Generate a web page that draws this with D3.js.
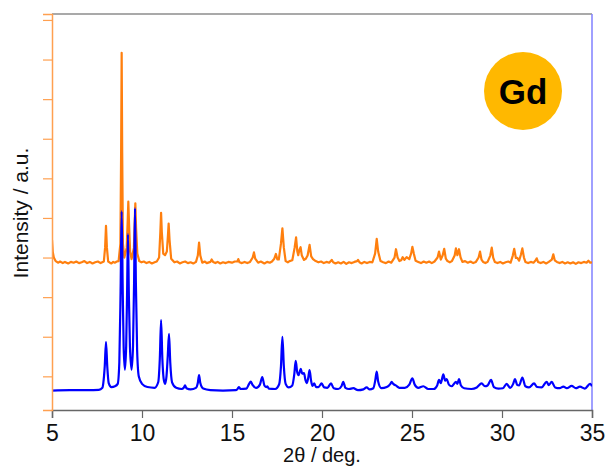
<!DOCTYPE html>
<html>
<head>
<meta charset="utf-8">
<script src="https://cdn.jsdelivr.net/npm/d3@7"></script>
<style>
  html, body { margin: 0; padding: 0; background: #fff; }
  svg { display: block; font-family: "Liberation Sans", Arial, sans-serif; }
</style>
</head>
<body>
<svg id="chart" width="605" height="468"></svg>
<script>
// Powder XRD patterns, intensity in arbitrary units vs 2θ (deg.)
// Upper trace (orange): measured pattern
const measured = [
  [5.00, 430], [5.04, 400], [5.10, 385], [5.20, 376], [5.35, 372], [5.45, 375], [5.60, 371], [5.72, 374],
  [5.90, 370], [6.05, 374], [6.20, 372], [6.35, 375], [6.50, 371], [6.65, 373], [6.80, 376], [6.95, 371],
  [7.10, 374], [7.25, 370], [7.40, 373], [7.55, 375], [7.70, 371], [7.88, 375],
  [7.95, 410], [8.00, 465], [8.05, 410], [8.12, 375], [8.22, 372], [8.30, 370], [8.40, 374], [8.50, 372],
  [8.60, 375], [8.70, 376],
  [8.80, 420], [8.84, 650], [8.87, 902], [8.90, 650], [8.94, 420], [9.02, 385], [9.15, 410],
  [9.20, 470], [9.24, 526], [9.28, 470], [9.34, 400], [9.42, 381], [9.55, 410], [9.59, 470],
  [9.63, 522], [9.67, 460], [9.74, 395], [9.85, 376], [9.97, 373], [10.10, 375], [10.25, 371],
  [10.40, 374], [10.55, 370], [10.70, 373], [10.82, 375],
  [10.95, 385], [11.02, 450], [11.06, 498], [11.10, 450], [11.18, 395], [11.28, 391], [11.38, 400],
  [11.44, 440], [11.48, 471], [11.53, 430], [11.62, 382], [11.80, 373], [11.95, 375], [12.10, 370],
  [12.25, 373], [12.40, 375], [12.55, 371], [12.70, 373], [12.85, 370], [13.00, 374],
  [13.10, 390], [13.17, 423], [13.24, 390], [13.35, 372], [13.48, 375], [13.60, 371],
  [13.80, 374], [13.87, 380], [13.95, 374], [14.08, 371], [14.20, 374], [14.35, 370], [14.50, 373],
  [14.65, 371], [14.80, 374], [15.00, 372], [15.15, 375], [15.30, 375],
  [15.35, 381], [15.42, 373], [15.55, 371], [15.70, 374], [15.85, 371], [16.00, 374], [16.15, 385],
  [16.22, 398], [16.29, 382], [16.45, 372], [16.60, 375], [16.80, 370], [16.95, 374], [17.10, 372],
  [17.22, 375], [17.35, 382], [17.44, 394], [17.52, 380], [17.60, 380],
  [17.72, 420], [17.80, 459], [17.88, 410], [17.98, 376], [18.10, 373], [18.20, 376], [18.35, 378], [18.48, 410],
  [18.56, 436], [18.63, 400], [18.68, 391], [18.75, 405], [18.81, 411], [18.88, 390], [19.00, 379],
  [19.10, 382], [19.20, 390], [19.31, 417], [19.40, 388], [19.50, 381], [19.65, 376], [19.80, 373],
  [19.95, 375], [20.10, 371], [20.25, 374], [20.40, 372], [20.54, 379], [20.62, 373], [20.75, 370],
  [20.90, 373], [21.05, 370], [21.20, 374], [21.35, 369], [21.50, 373], [21.65, 371], [21.80, 374],
  [21.95, 376], [22.00, 379], [22.08, 373], [22.20, 370], [22.35, 374], [22.50, 371], [22.65, 374],
  [22.80, 373], [22.95, 395], [23.04, 432], [23.12, 400], [23.25, 376], [23.40, 373], [23.55, 371],
  [23.70, 375], [23.85, 372], [24.03, 385], [24.11, 406], [24.20, 385], [24.30, 376], [24.40, 378], [24.48, 386],
  [24.58, 379], [24.70, 386], [24.85, 381], [24.95, 395], [25.02, 412], [25.10, 395], [25.20, 377],
  [25.35, 374], [25.50, 371], [25.65, 375], [25.80, 372], [25.95, 375], [26.10, 371], [26.25, 375],
  [26.42, 385], [26.50, 400], [26.60, 380], [26.70, 390],
  [26.79, 407], [26.88, 382], [26.97, 376], [27.10, 373], [27.22, 376], [27.37, 390], [27.44, 408], [27.52, 391],
  [27.61, 406], [27.70, 385], [27.80, 374], [27.95, 376], [28.10, 372], [28.25, 375], [28.40, 371],
  [28.55, 374], [28.70, 385], [28.78, 400], [28.86, 380], [28.95, 374], [29.08, 371], [29.20, 374],
  [29.35, 390], [29.43, 410], [29.51, 385], [29.60, 374], [29.75, 371], [29.90, 374], [30.05, 370],
  [30.20, 373], [30.35, 375], [30.48, 372], [30.60, 390], [30.68, 407], [30.77, 384], [30.85, 384], [30.95, 377],
  [31.05, 392], [31.13, 408], [31.22, 385], [31.30, 374], [31.45, 371], [31.60, 374], [31.75, 372],
  [31.87, 378], [31.93, 383], [32.00, 374], [32.15, 371], [32.30, 374], [32.45, 370], [32.60, 374],
  [32.77, 380], [32.85, 393], [32.93, 378], [33.05, 374], [33.20, 371], [33.35, 374], [33.50, 370],
  [33.65, 373], [33.80, 370], [33.95, 373], [34.10, 369], [34.25, 373], [34.40, 371], [34.55, 374],
  [34.70, 372], [34.80, 377], [34.90, 372], [35.00, 373]
];

// Lower trace (blue): simulated pattern
const simulated = [
  [5.00, 49], [6.00, 50], [7.00, 50], [7.60, 51], [7.80, 56], [7.85, 68], [7.93, 110], [8.00, 172],
  [8.07, 110], [8.15, 68], [8.30, 58], [8.50, 60], [8.65, 66], [8.74, 120], [8.81, 300], [8.87, 502],
  [8.93, 300], [8.98, 160], [9.05, 102], [9.12, 160], [9.17, 290], [9.22, 444], [9.27, 290],
  [9.33, 160], [9.42, 102], [9.50, 160], [9.56, 320], [9.61, 510], [9.66, 320], [9.73, 150],
  [9.82, 85], [10.00, 66], [10.30, 58], [10.70, 56], [10.90, 70], [10.99, 130], [11.06, 227],
  [11.13, 130], [11.20, 80], [11.28, 66], [11.36, 85], [11.43, 135], [11.50, 192], [11.57, 120],
  [11.67, 70], [11.90, 56], [12.20, 53], [12.32, 56], [12.39, 62], [12.47, 55], [12.70, 52],
  [13.00, 56], [13.10, 68], [13.17, 88], [13.24, 68], [13.40, 54], [13.80, 50], [14.50, 49],
  [15.20, 50], [15.32, 54], [15.39, 58], [15.47, 53], [15.80, 54], [15.95, 66], [16.04, 72],
  [16.13, 64], [16.35, 56], [16.55, 64], [16.68, 83], [16.80, 62], [16.90, 58], [16.96, 60],
  [17.05, 54], [17.40, 53], [17.62, 65], [17.72, 110], [17.80, 185], [17.88, 110], [17.98, 66],
  [18.15, 57], [18.35, 62], [18.46, 90], [18.54, 124], [18.62, 96], [18.70, 88], [18.76, 96],
  [18.82, 104], [18.90, 92], [19.00, 93], [19.08, 76], [19.15, 68], [19.23, 80], [19.31, 101],
  [19.39, 75], [19.47, 61], [19.57, 67], [19.67, 58], [19.80, 58], [19.98, 67], [20.12, 57],
  [20.30, 56], [20.50, 67], [20.65, 55], [20.90, 53], [21.08, 60], [21.18, 71], [21.30, 56],
  [21.50, 53], [21.74, 55], [22.00, 50], [22.30, 52], [22.48, 57], [22.65, 52], [22.85, 55],
  [22.96, 75], [23.04, 97], [23.12, 72], [23.30, 55], [23.60, 58], [23.80, 66], [23.87, 71],
  [23.96, 66], [24.10, 62], [24.30, 56], [24.60, 56], [24.85, 64], [25.02, 80], [25.15, 64],
  [25.35, 56], [25.63, 60], [25.90, 53], [26.20, 53], [26.40, 62], [26.50, 76], [26.60, 68],
  [26.74, 90], [26.84, 74], [26.93, 78], [27.05, 64], [27.20, 60], [27.44, 71], [27.52, 66],
  [27.61, 78], [27.72, 62], [27.90, 55], [28.30, 53], [28.60, 57], [28.87, 67], [29.05, 60],
  [29.20, 62], [29.39, 76], [29.55, 58], [29.80, 54], [30.05, 55], [30.26, 66], [30.45, 56],
  [30.62, 66], [30.72, 78], [30.85, 63], [30.95, 62], [31.13, 82], [31.30, 60], [31.50, 57],
  [31.78, 67], [31.95, 58], [32.20, 57], [32.48, 71], [32.60, 63], [32.76, 71], [32.95, 57],
  [33.20, 55], [33.41, 59], [33.60, 55], [33.87, 61], [34.10, 55], [34.33, 59], [34.60, 54],
  [34.89, 66], [35.00, 60]
];

const xMajorTicks = [5, 10, 15, 20, 25, 30, 35];
const xMinorTicks = [7.5, 12.5, 17.5, 22.5, 27.5, 32.5];
const yMajorTicks = [85, 185, 285, 385, 485, 585, 685, 785, 885, 985];
const yMinorTicks = [35, 135, 235, 335, 435, 535, 635, 735, 835, 935];

const xLabel = "2θ / deg.";
const yLabel = "Intensity / a.u.";
const badgeText = "Gd";

const margin = { top: 14, right: 13, bottom: 58, left: 52 };
const W = 605, H = 468;
const innerW = W - margin.left - margin.right;
const innerH = H - margin.top - margin.bottom;

const svg = d3.select("#chart");
const g = svg.append("g").attr("transform", `translate(${margin.left},${margin.top})`);

const x = d3.scaleLinear().domain([5, 35]).range([0, innerW]);
const y = d3.scaleLinear().domain([0, 1000]).range([innerH, 0]);

svg.append("defs").append("clipPath").attr("id", "plotClip")
  .append("rect").attr("width", innerW).attr("height", innerH);

// frame: top (grey) and right (blue) edges
g.append("line").attr("x1", 0).attr("x2", innerW).attr("y1", 0).attr("y2", 0)
  .attr("stroke", "#8c8c8c").attr("stroke-width", 1.5);
g.append("line").attr("x1", innerW).attr("x2", innerW).attr("y1", 0).attr("y2", innerH)
  .attr("stroke", "#8080ff").attr("stroke-width", 1.5);

// traces
const line = d3.line().x(d => x(d[0])).y(d => y(d[1]));
const smooth = d3.line().x(d => x(d[0])).y(d => y(d[1])).curve(d3.curveMonotoneX);
const traces = g.append("g").attr("clip-path", "url(#plotClip)");
traces.append("path").datum(measured).attr("d", line)
  .attr("fill", "none").attr("stroke", "#ff7f0e").attr("stroke-width", 2.2)
  .attr("stroke-linejoin", "round");
traces.append("path").datum(simulated).attr("d", smooth)
  .attr("fill", "none").attr("stroke", "#0000ff").attr("stroke-width", 2.2)
  .attr("stroke-linejoin", "round");

// x axis
const xAxisG = g.append("g").attr("transform", `translate(0,${innerH})`);
xAxisG.call(d3.axisBottom(x).tickValues(xMinorTicks).tickSize(5).tickFormat(""));
xAxisG.call(d3.axisBottom(x).tickValues(xMajorTicks).tickSize(8).tickPadding(7).tickFormat(d3.format("d")));
xAxisG.selectAll(".domain").attr("stroke", "#666").attr("stroke-width", 1.5);
xAxisG.selectAll(".tick line").attr("stroke", "#666").attr("stroke-width", 1.2);
xAxisG.selectAll(".tick text").attr("fill", "#111").attr("font-size", 23)
  .attr("font-family", "'Liberation Sans', Arial, sans-serif");

// y axis (no labels)
const yAxisG = g.append("g");
yAxisG.call(d3.axisLeft(y).tickValues(yMinorTicks).tickSize(4).tickFormat(""));
yAxisG.call(d3.axisLeft(y).tickValues(yMajorTicks).tickSize(9).tickFormat(""));
yAxisG.selectAll(".domain").attr("stroke", "#ffa050").attr("stroke-width", 1.5);
yAxisG.selectAll(".tick line").attr("stroke", "#ffa050").attr("stroke-width", 1.2);

// axis titles
svg.append("text").attr("x", margin.left + innerW / 2).attr("y", 462)
  .attr("text-anchor", "middle").attr("font-size", 20).attr("fill", "#111").text(xLabel);
svg.append("text").attr("transform", `translate(28,${margin.top + innerH / 2 + 1}) rotate(-90)`)
  .attr("text-anchor", "middle").attr("font-size", 21).attr("fill", "#111").text(yLabel);

// element badge
const badge = svg.append("g").attr("transform", "translate(523,91)");
badge.append("circle").attr("r", 39).attr("fill", "#ffb800");
badge.append("text").attr("y", 13).attr("text-anchor", "middle")
  .attr("font-size", 35).attr("font-weight", "bold").attr("fill", "#000").text(badgeText);
</script>
</body>
</html>
